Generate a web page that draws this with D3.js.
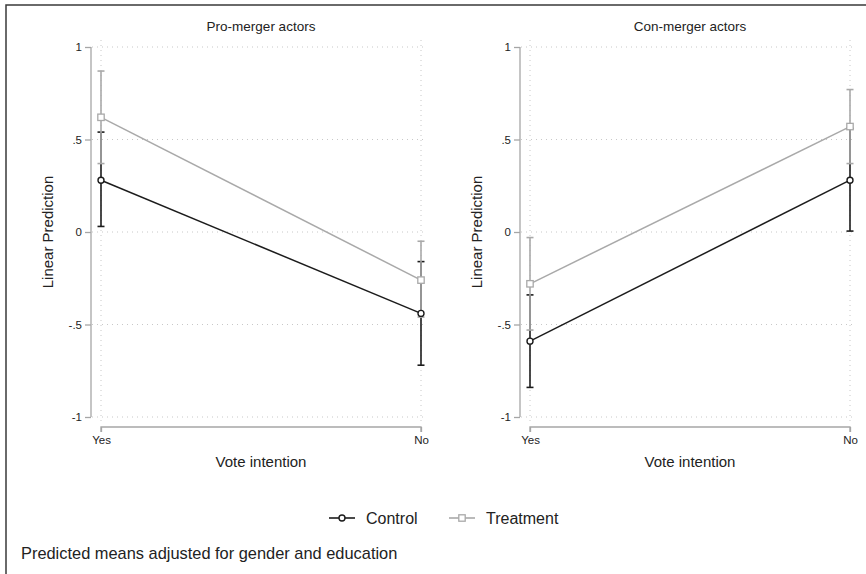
<!DOCTYPE html>
<html>
<head>
<meta charset="utf-8">
<script src="https://cdn.jsdelivr.net/npm/d3@7"></script>
<style>
  body { margin: 0; background: #fff; }
  svg { display: block; font-family: "Liberation Sans", Arial, sans-serif; }
</style>
</head>
<body>
<svg id="chart" width="866" height="574"></svg>
<script>
// Data.
const categories = ['Yes', 'No'];
const panelTitles = ['Pro-merger actors', 'Con-merger actors'];
const yTicks = [-1, -0.5, 0, 0.5, 1];
const yTickLabels = ['-1', '-.5', '0', '.5', '1'];

const proControl = [0.28, -0.44];
const proControlLo = [0.03, -0.72];
const proControlHi = [0.54, -0.16];
const proTreat = [0.62, -0.26];
const proTreatLo = [0.37, -0.46];
const proTreatHi = [0.87, -0.05];

const conControl = [-0.59, 0.28];
const conControlLo = [-0.84, 0.005];
const conControlHi = [-0.34, 0.56];
const conTreat = [-0.28, 0.57];
const conTreatLo = [-0.53, 0.37];
const conTreatHi = [-0.03, 0.77];

const colors = {control: '#1c1c1c', treatment: '#a9a9a9'};
const axisColor = '#a6a6a6';
const gridColor = '#c8c8c8';

const panels = [
  {title: panelTitles[0], series: [
    {key: 'control', mean: proControl, lo: proControlLo, hi: proControlHi},
    {key: 'treatment', mean: proTreat, lo: proTreatLo, hi: proTreatHi}]},
  {title: panelTitles[1], series: [
    {key: 'control', mean: conControl, lo: conControlLo, hi: conControlHi},
    {key: 'treatment', mean: conTreat, lo: conTreatLo, hi: conTreatHi}]}
];

const svg = d3.select('#chart');

// Outer frame.
svg.append('rect')
  .attr('x', 6).attr('y', 5).attr('width', 880).attr('height', 600)
  .attr('fill', 'none').attr('stroke', '#3a3a3a').attr('stroke-width', 1.5);

const yScale = d3.scaleLinear().domain([-1, 1]).range([417, 47]);
const panelOffsets = [0, 429];

function marker(g, key, x, y) {
  if (key === 'control') {
    g.append('circle').attr('cx', x).attr('cy', y).attr('r', 3)
      .attr('fill', '#fff').attr('stroke', colors.control).attr('stroke-width', 1.4);
  } else {
    g.append('rect').attr('x', x - 3.2).attr('y', y - 3.2).attr('width', 6.4).attr('height', 6.4)
      .attr('fill', '#fff').attr('stroke', colors.treatment).attr('stroke-width', 1.3);
  }
}

panels.forEach((panel, p) => {
  const g = svg.append('g').attr('transform', `translate(${panelOffsets[p]}, 0)`);
  const xScale = d3.scalePoint().domain(categories).range([101, 421]);

  // Dotted grid.
  g.append('g').selectAll('line').data(yTicks).join('line')
    .attr('x1', 92).attr('x2', 427)
    .attr('y1', (d) => yScale(d)).attr('y2', (d) => yScale(d))
    .attr('stroke', gridColor).attr('stroke-width', 1).attr('stroke-dasharray', '1,4');
  g.append('g').selectAll('line').data(categories).join('line')
    .attr('x1', (d) => xScale(d)).attr('x2', (d) => xScale(d))
    .attr('y1', 40).attr('y2', 423)
    .attr('stroke', gridColor).attr('stroke-width', 1).attr('stroke-dasharray', '1,4');

  // Y axis.
  const yAxis = d3.axisLeft(yScale).tickValues(yTicks)
    .tickFormat((d, i) => yTickLabels[i]).tickSize(6).tickPadding(3);
  const ya = g.append('g').attr('transform', 'translate(91,0)').call(yAxis);
  ya.select('.domain').attr('d', `M-0,${yScale(1)}V${yScale(-1)}`).attr('stroke', axisColor).attr('stroke-width', 1.3);
  ya.selectAll('.tick line').attr('stroke', axisColor).attr('stroke-width', 1.3);
  ya.selectAll('.tick text').attr('fill', '#222').style('font-size', '11.5px')
    .style('font-family', '"Liberation Sans", Arial, sans-serif');

  // X axis.
  const xAxis = d3.axisBottom(xScale).tickSize(5).tickPadding(4);
  const xa = g.append('g').attr('transform', 'translate(0,427)').call(xAxis);
  xa.select('.domain').attr('d', `M${xScale('Yes')},5V0H${xScale('No')}V5`)
    .attr('stroke', axisColor).attr('stroke-width', 1.3);
  xa.selectAll('.tick line').attr('stroke', axisColor).attr('stroke-width', 1.3);
  xa.selectAll('.tick text').attr('fill', '#222').style('font-size', '11.5px')
    .style('font-family', '"Liberation Sans", Arial, sans-serif');

  // Titles.
  g.append('text').attr('x', 261).attr('y', 31).attr('text-anchor', 'middle')
    .attr('fill', '#222').style('font-size', '13.5px').text(panel.title);
  g.append('text').attr('x', 261).attr('y', 467).attr('text-anchor', 'middle')
    .attr('fill', '#222').style('font-size', '15px').text('Vote intention');
  g.append('text').attr('transform', 'translate(53,232) rotate(-90)').attr('text-anchor', 'middle')
    .attr('fill', '#222').style('font-size', '15px').text('Linear Prediction');

  const line = d3.line().x((d, i) => xScale(categories[i])).y((d) => yScale(d));

  // Lines then CIs then markers; treatment over control.
  panel.series.forEach((s) => {
    g.append('path').datum(s.mean).attr('d', line)
      .attr('fill', 'none').attr('stroke', colors[s.key]).attr('stroke-width', 1.5);
  });
  panel.series.forEach((s) => {
    categories.forEach((c, i) => {
      const x = xScale(c);
      g.append('line').attr('x1', x).attr('x2', x)
        .attr('y1', yScale(s.lo[i])).attr('y2', yScale(s.hi[i]))
        .attr('stroke', colors[s.key]).attr('stroke-width', 1.6);
      [s.lo[i], s.hi[i]].forEach((v) => {
        g.append('line').attr('x1', x - 3.5).attr('x2', x + 3.5)
          .attr('y1', yScale(v)).attr('y2', yScale(v))
          .attr('stroke', colors[s.key]).attr('stroke-width', 1.6);
      });
    });
  });
  panel.series.forEach((s) => {
    categories.forEach((c, i) => marker(g, s.key, xScale(c), yScale(s.mean[i])));
  });
});

// Legend.
const legendItems = [
  {key: 'control', label: 'Control', x: 329},
  {key: 'treatment', label: 'Treatment', x: 449}
];
const legend = svg.append('g');
legendItems.forEach((d) => {
  legend.append('line').attr('x1', d.x).attr('x2', d.x + 26).attr('y1', 518).attr('y2', 518)
    .attr('stroke', colors[d.key]).attr('stroke-width', 1.6);
  marker(legend, d.key, d.x + 13, 518);
  legend.append('text').attr('x', d.x + 37).attr('y', 524)
    .attr('fill', '#222').style('font-size', '16px').text(d.label);
});

// Note.
svg.append('text').attr('x', 21).attr('y', 559).attr('fill', '#222')
  .style('font-size', '16.4px').text('Predicted means adjusted for gender and education');
</script>
</body>
</html>
